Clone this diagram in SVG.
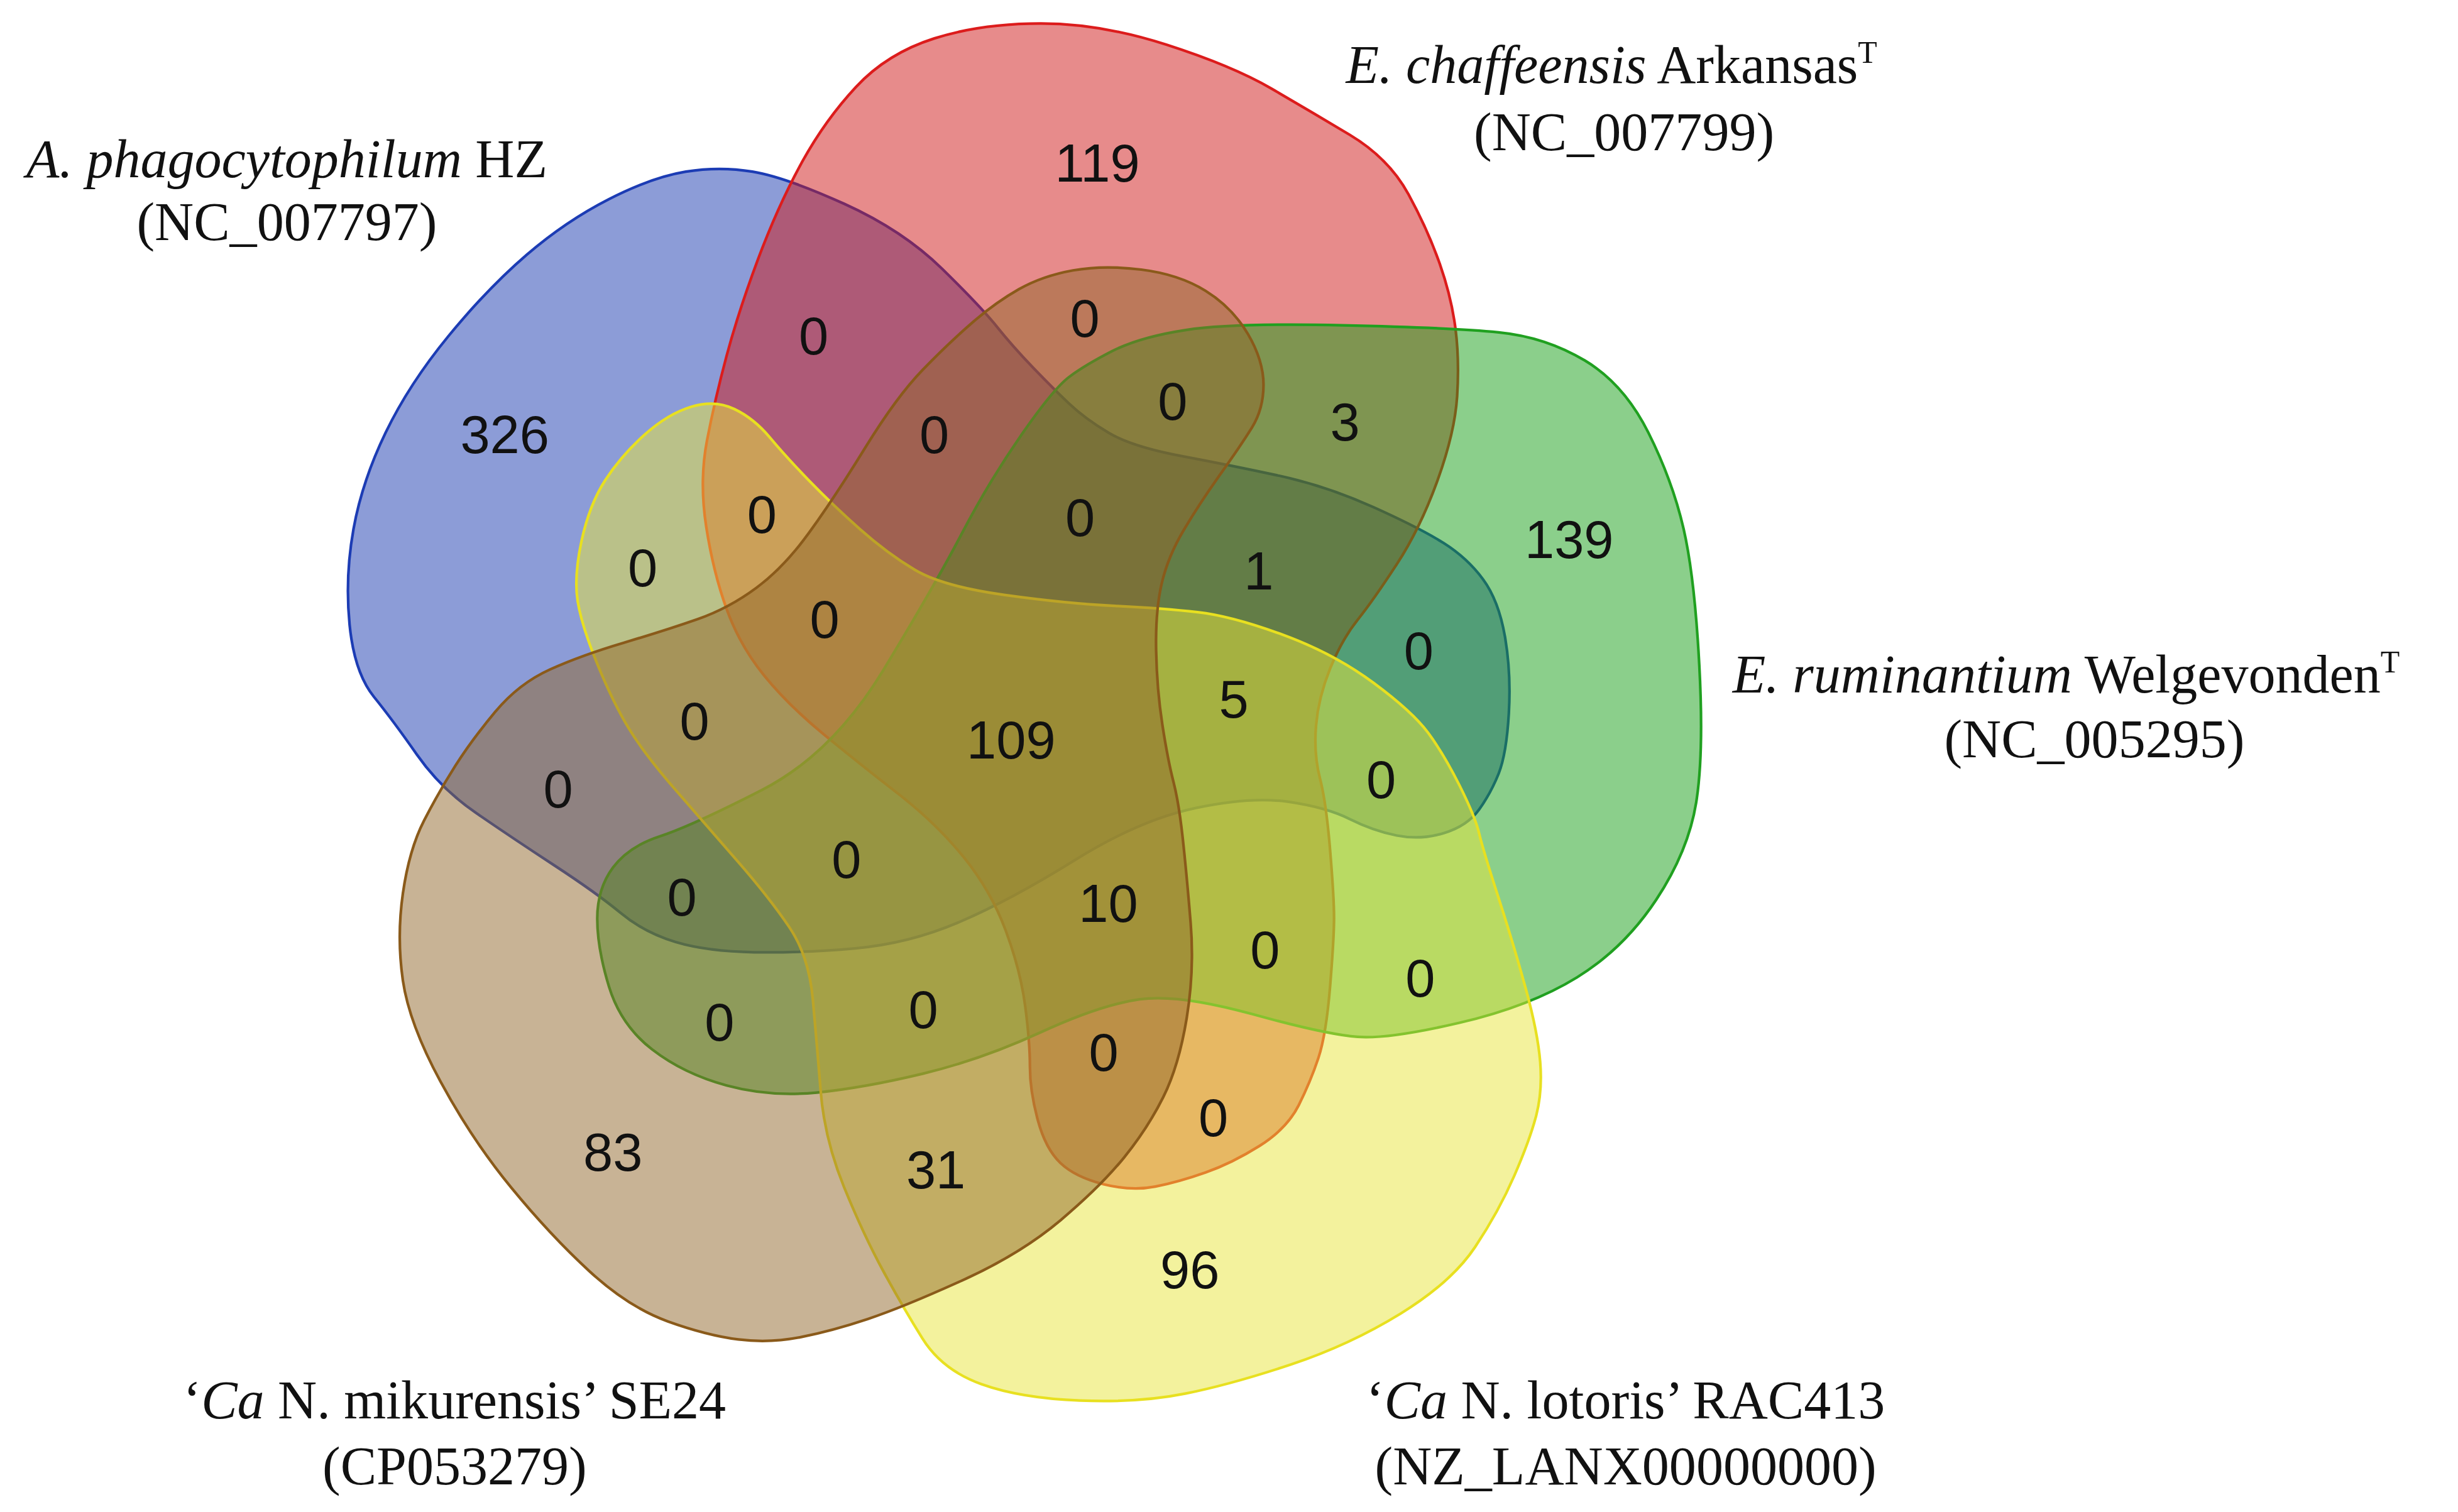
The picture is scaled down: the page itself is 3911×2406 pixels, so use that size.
<svg xmlns="http://www.w3.org/2000/svg" width="3911" height="2406" viewBox="0 0 3911 2406">
<style>
.set{stroke-width:1.7;stroke-linejoin:round}
.n{font-family:"Liberation Sans",Arial,sans-serif;font-size:34px;fill:#111;text-anchor:middle}
.lab{font-family:"Liberation Serif","Times New Roman",serif;font-size:34.5px;fill:#111;text-anchor:middle}
.it{font-style:italic}
</style>
<rect width="3911" height="2406" fill="#fff"/>
<g transform="scale(2.4943)">
<g id="set-A">
<path class="set" fill="#1a3ab0" fill-opacity="0.5" stroke="#1c3cb4" d="M437.5,109.5 Q459,106 480,109.5 Q501,113 538.5,130 Q576,147 601,171.5 Q626,196 636,208.5 Q646,221 659,234.5 Q672,248 682,257.5 Q692,267 707,276 Q722,285 754,291 Q786,297 816,303.5 Q846,310 876,323.5 Q906,337 921,346.5 Q936,356 946,369.5 Q956,383 960,406 Q964,429 962.5,455 Q961,481 956,493.5 Q951,506 943.5,516.5 Q936,527 921,531.5 Q906,536 891,533 Q876,530 861,522.5 Q846,515 822,511.5 Q798,508 762.5,515.5 Q727,523 686,548.5 Q645,574 612.5,588 Q580,602 545.5,605 Q511,608 481,607.5 Q451,607 431,601 Q411,595 396,582.5 Q381,570 353.5,552 Q326,534 303.5,518.5 Q281,503 266,481.5 Q251,460 238.5,444.5 Q226,429 223,398.5 Q220,368 225.5,337.5 Q231,307 246,276 Q261,245 286,214.5 Q311,184 336,162.5 Q361,141 388.5,127 Q416,113 437.5,109.5 Z"/>
</g>
<g id="set-C">
<path class="set" fill="#d01818" fill-opacity="0.5" stroke="#dc1c1c" d="M451,281 Q456,255 463.5,227 Q471,199 483.5,165.5 Q496,132 511,104.5 Q526,77 546,55.5 Q566,34 596,24.5 Q626,15 664,15 Q702,15 744,28.5 Q786,42 811,56.5 Q836,71 861,86 Q886,101 898.5,124 Q911,147 918.5,168.5 Q926,190 928.5,210 Q931,230 929.5,253 Q928,276 917,306.5 Q906,337 891,360 Q876,383 866,395.5 Q856,408 848.5,426.5 Q841,445 839.5,463 Q838,481 842,496.5 Q846,512 848.5,542.5 Q851,573 851,585.5 Q851,598 848.5,629 Q846,660 841,675 Q836,690 828.5,705 Q821,720 803.5,731 Q786,742 769,748 Q752,754 737,757 Q722,760 704,755.5 Q686,751 676.5,742 Q667,733 662,714.5 Q657,696 657,680.5 Q657,665 654,642 Q651,619 641.5,593.5 Q632,568 614.5,546.5 Q597,525 572.5,506 Q548,487 525.5,468.5 Q503,450 487.5,431 Q472,412 463.5,388.5 Q455,365 450.5,336 Q446,307 451,281 Z"/>
</g>
<g id="set-R">
<path class="set" fill="#18a018" fill-opacity="0.5" stroke="#20a020" d="M856,207.5 Q926,209 956,212 Q986,215 1011,230 Q1036,245 1051.5,276 Q1067,307 1074,337.5 Q1081,368 1084,424.5 Q1087,481 1082,512 Q1077,543 1056.5,574 Q1036,605 1006,623.5 Q976,642 931,652.5 Q886,663 866,661.5 Q846,660 799,647 Q752,634 727,637.5 Q702,641 664,658.5 Q626,676 588.5,685 Q551,694 521,697 Q491,700 463.5,692.5 Q436,685 416,669.5 Q396,654 388.5,629.5 Q381,605 381,586 Q381,567 391,553.5 Q401,540 421,533.5 Q441,527 486,504 Q531,481 563.5,427.5 Q596,374 613.5,340.5 Q631,307 651.5,277.5 Q672,248 682,240.5 Q692,233 709.5,224 Q727,215 756.5,210.5 Q786,206 856,207.5 Z"/>
</g>
<g id="set-L">
<path class="set" fill="#e8e63c" fill-opacity="0.5" stroke="#e8e020" d="M441,259.5 Q456,255 468.5,261 Q481,267 491,279 Q501,291 516,306.5 Q531,322 548.5,337.5 Q566,353 583.5,363.5 Q601,374 640.5,379.5 Q680,385 711,386.5 Q742,388 764,390.5 Q786,393 818.5,405 Q851,417 876,435.5 Q901,454 911,467.5 Q921,481 931,501 Q941,521 943.5,531.5 Q946,542 956,573 Q966,604 973.5,631.5 Q981,659 982.5,677.5 Q984,696 980,711.5 Q976,727 966,750 Q956,773 941,795.5 Q926,818 893.5,838 Q861,858 823.5,870.5 Q786,883 756.5,889 Q727,895 689,893.5 Q651,892 626,883 Q601,874 588.5,854 Q576,834 563.5,811 Q551,788 538.5,757.5 Q526,727 523.5,696 Q521,665 518.5,637.5 Q516,610 503.5,591.5 Q491,573 471,550 Q451,527 431,504 Q411,481 401,464.5 Q391,448 381,423.5 Q371,399 368.5,383.5 Q366,368 371,345 Q376,322 386,306.5 Q396,291 411,277.5 Q426,264 441,259.5 Z"/>
</g>
<g id="set-M">
<path class="set" fill="#91672b" fill-opacity="0.5" stroke="#8a5a1a" d="M290.5,488.5 Q301,472 316,454 Q331,436 351,427 Q371,418 398,410 Q425,402 445,395 Q465,388 482.5,375 Q500,362 516,340 Q532,318 552,285.5 Q572,253 588.5,236 Q605,219 620,206 Q635,193 650,184.5 Q665,176 684.5,172.5 Q704,169 728,172 Q752,175 769,185.5 Q786,196 796,213 Q806,230 806,245.5 Q806,261 798.5,273 Q791,285 778.5,302.5 Q766,320 755.5,337.5 Q745,355 741,372.5 Q737,390 737.5,415 Q738,440 741.5,462.5 Q745,485 748.5,498.5 Q752,512 754.5,535 Q757,558 759.5,588.5 Q762,619 757,649.5 Q752,680 742,700 Q732,720 717,738.5 Q702,757 676.5,778.5 Q651,800 613.5,817 Q576,834 553.5,841.5 Q531,849 511,853 Q491,857 471,854.5 Q451,852 426,843 Q401,834 376,811 Q351,788 326,757.5 Q301,727 281,690 Q261,653 257,625.5 Q253,598 257,570 Q261,542 270.5,523.5 Q280,505 290.5,488.5 Z"/>
</g>
<g id="counts">
<text class="n" x="322" y="289">326</text>
<text class="n" x="700" y="116">119</text>
<text class="n" x="1001" y="356">139</text>
<text class="n" x="759" y="822">96</text>
<text class="n" x="391" y="747">83</text>
<text class="n" x="645" y="484">109</text>
<text class="n" x="519" y="226">0</text>
<text class="n" x="692" y="215">0</text>
<text class="n" x="748" y="268">0</text>
<text class="n" x="858" y="281">3</text>
<text class="n" x="596" y="289">0</text>
<text class="n" x="486" y="340">0</text>
<text class="n" x="689" y="342">0</text>
<text class="n" x="410" y="374">0</text>
<text class="n" x="803" y="376">1</text>
<text class="n" x="526" y="407">0</text>
<text class="n" x="905" y="427">0</text>
<text class="n" x="787" y="458">5</text>
<text class="n" x="443" y="472">0</text>
<text class="n" x="881" y="509">0</text>
<text class="n" x="356" y="515">0</text>
<text class="n" x="540" y="560">0</text>
<text class="n" x="435" y="584">0</text>
<text class="n" x="707" y="588">10</text>
<text class="n" x="807" y="618">0</text>
<text class="n" x="906" y="636">0</text>
<text class="n" x="459" y="664">0</text>
<text class="n" x="589" y="656">0</text>
<text class="n" x="704" y="683">0</text>
<text class="n" x="774" y="725">0</text>
<text class="n" x="597" y="758">31</text>
</g>
<g id="labels">
<text class="lab" x="183" y="113"><tspan class="it">A. phagocytophilum</tspan> HZ</text>
<text class="lab" x="183" y="153">(NC_007797)</text>
<text class="lab" x="1028" y="53"><tspan class="it">E. chaffeensis</tspan> Arkansas<tspan dy="-13" font-size="20">T</tspan></text>
<text class="lab" x="1036" y="96">(NC_007799)</text>
<text class="lab" x="1318" y="442" font-size="33.5"><tspan class="it">E. ruminantium</tspan> Welgevonden<tspan dy="-13" font-size="20">T</tspan></text>
<text class="lab" x="1336" y="483">(NC_005295)</text>
<text class="lab" x="290" y="905">‘<tspan class="it">Ca</tspan> N. mikurensis’ SE24</text>
<text class="lab" x="290" y="947">(CP053279)</text>
<text class="lab" x="1037" y="905">‘<tspan class="it">Ca</tspan> N. lotoris’ RAC413</text>
<text class="lab" x="1037" y="947">(NZ_LANX00000000)</text>
</g>
</g>
</svg>
